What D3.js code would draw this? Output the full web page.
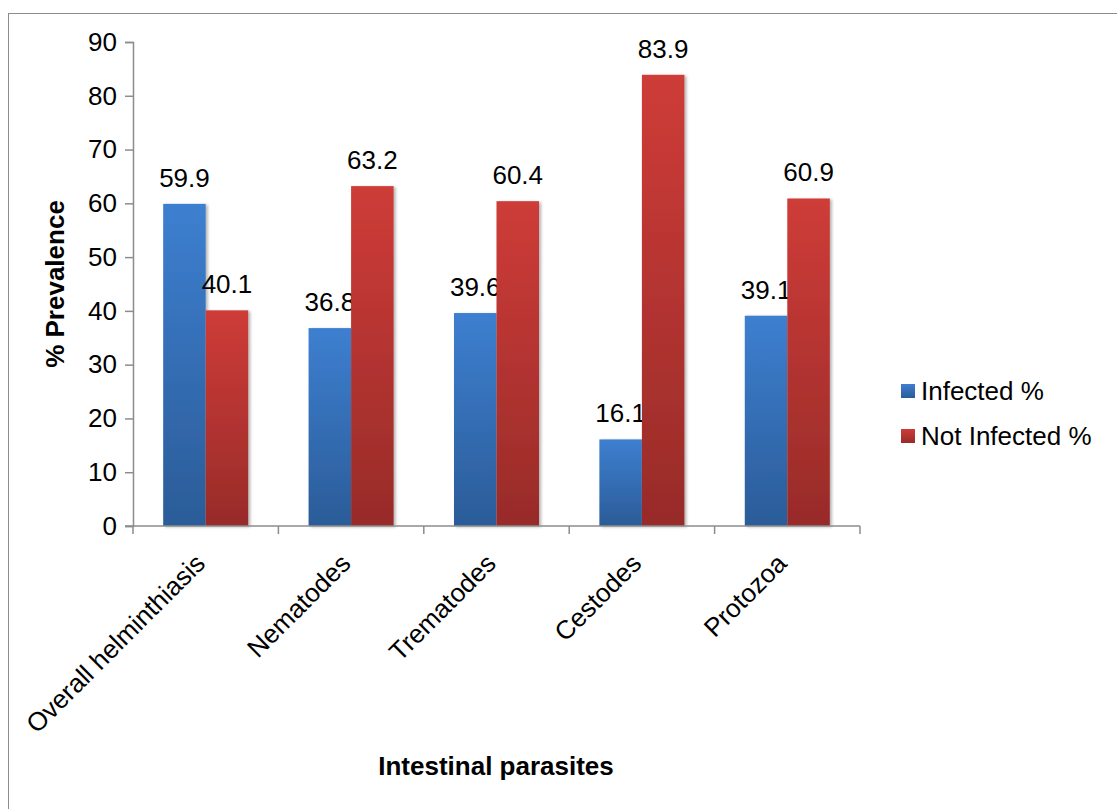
<!DOCTYPE html>
<html>
<head>
<meta charset="utf-8">
<script src="https://cdn.jsdelivr.net/npm/d3@7"></script>
<style>
  html, body { margin: 0; padding: 0; background: #fff; }
  svg { display: block; font-family: "Liberation Sans", Arial, sans-serif; }
</style>
</head>
<body>
<svg id="chart" width="1117" height="809"></svg>
<script>
// Prevalence of intestinal parasites
const categories = ["Overall helminthiasis", "Nematodes", "Trematodes", "Cestodes", "Protozoa"];
const seriesNames = ["Infected %", "Not Infected %"];
const infected = [59.9, 36.8, 39.6, 16.1, 39.1];
const notInfected = [40.1, 63.2, 60.4, 83.9, 60.9];
const yTicks = [0, 10, 20, 30, 40, 50, 60, 70, 80, 90];

const series = [infected, notInfected];
const svg = d3.select("#chart");
const W = 1117, H = 809;
const plot = { left: 133, right: 860, top: 42, bottom: 526 };
const FS = 26;

// outer frame
svg.append("rect")
  .attr("x", 8.5).attr("y", 13.5)
  .attr("width", W + 10).attr("height", H + 10)
  .attr("fill", "#fff").attr("stroke", "#8c8c8c").attr("stroke-width", 1);

const defs = svg.append("defs");
const grads = [
  { id: "gBlue", top: "#3d7fd0", bottom: "#2b5c98" },
  { id: "gRed", top: "#ce3c38", bottom: "#982b29" }
];
grads.forEach(g => {
  const lg = defs.append("linearGradient").attr("id", g.id)
    .attr("x1", 0).attr("y1", 0).attr("x2", 0).attr("y2", 1);
  lg.append("stop").attr("offset", "0%").attr("stop-color", g.top);
  lg.append("stop").attr("offset", "100%").attr("stop-color", g.bottom);
});
const shadow = defs.append("filter").attr("id", "barShadow")
  .attr("x", "-20%").attr("y", "-5%").attr("width", "150%").attr("height", "110%");
shadow.append("feDropShadow").attr("dx", 2).attr("dy", 1).attr("stdDeviation", 1.5)
  .attr("flood-color", "#000").attr("flood-opacity", 0.3);

const x = d3.scaleBand().domain(categories).range([plot.left, plot.right]).paddingInner(0).paddingOuter(0);
const xSub = d3.scaleBand().domain([0, 1]).range([0, x.bandwidth()]).paddingInner(0).paddingOuter(0.71);
const y = d3.scaleLinear().domain([0, 90]).range([plot.bottom, plot.top]);

// y axis
const yAxis = svg.append("g").attr("transform", `translate(${plot.left},0)`)
  .call(d3.axisLeft(y).tickValues(yTicks).tickSize(8).tickPadding(8).tickFormat(d3.format("d")));
yAxis.select(".domain").attr("stroke", "#8c8c8c").attr("stroke-width", 1.5);
yAxis.selectAll(".tick line").attr("stroke", "#8c8c8c").attr("stroke-width", 1.5);
yAxis.selectAll(".tick text").attr("font-size", FS).attr("fill", "#000")
  .attr("font-family", "'Liberation Sans', Arial, sans-serif");

const fills = ["url(#gBlue)", "url(#gRed)"];

// bars and value labels, series by series
series.forEach((vals, si) => {
  const g = svg.append("g");
  g.selectAll("rect").data(vals).join("rect")
    .attr("x", (d, i) => x(categories[i]) + xSub(si))
    .attr("y", d => y(d))
    .attr("width", xSub.bandwidth())
    .attr("height", d => y(0) - y(d))
    .attr("fill", fills[si])
    .attr("filter", "url(#barShadow)");
  g.selectAll("text").data(vals).join("text")
    .attr("x", (d, i) => x(categories[i]) + xSub(si) + xSub.bandwidth() / 2)
    .attr("y", d => y(d) - 17)
    .attr("text-anchor", "middle")
    .attr("font-size", FS)
    .attr("fill", "#000")
    .text(d => d.toFixed(1));
});

// x axis
const xAxis = svg.append("g").attr("transform", `translate(0,${plot.bottom})`);
xAxis.append("line").attr("x1", plot.left - 8).attr("x2", plot.right)
  .attr("y1", 0).attr("y2", 0).attr("stroke", "#8c8c8c").attr("stroke-width", 1.5);
const boundaries = categories.map(c => x(c)).concat([plot.right]);
xAxis.selectAll("line.tk").data(boundaries).join("line").attr("class", "tk")
  .attr("x1", d => d).attr("x2", d => d).attr("y1", 0).attr("y2", 8)
  .attr("stroke", "#8c8c8c").attr("stroke-width", 1.5);
xAxis.selectAll("text.cat").data(categories).join("text").attr("class", "cat")
  .attr("transform", d => `translate(${x(d) + x.bandwidth() / 2 + 1},${39}) rotate(-45)`)
  .attr("text-anchor", "end")
  .attr("font-size", FS)
  .attr("fill", "#000")
  .text(d => d);

// axis titles
svg.append("text")
  .attr("transform", `translate(64,${(plot.top + plot.bottom) / 2}) rotate(-90)`)
  .attr("text-anchor", "middle")
  .attr("font-size", FS).attr("font-weight", "bold")
  .text("% Prevalence");
svg.append("text")
  .attr("x", 496).attr("y", 775)
  .attr("text-anchor", "middle")
  .attr("font-size", FS).attr("font-weight", "bold")
  .text("Intestinal parasites");

// legend
const legend = svg.append("g").attr("transform", "translate(901,384)");
seriesNames.forEach((name, i) => {
  const row = legend.append("g").attr("transform", `translate(0,${i * 45})`);
  row.append("rect").attr("width", 14).attr("height", 14).attr("fill", fills[i]);
  row.append("text").attr("x", 20).attr("y", 16).attr("font-size", FS).attr("fill", "#000").text(name);
});
</script>
</body>
</html>
